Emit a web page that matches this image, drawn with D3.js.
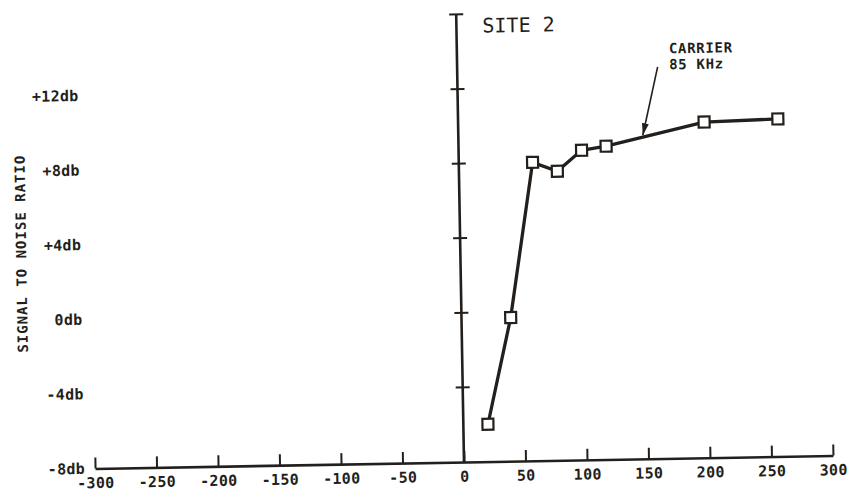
<!DOCTYPE html>
<html>
<head>
<meta charset="UTF-8">
<script src="https://d3js.org/d3.v7.min.js"></script>
<style>
  body { margin: 0; background: #fff; }
  svg text { font-family: "DejaVu Sans Mono", monospace; fill: #231f1c; }
  .axis .tick text { font-size: 15px; font-weight: bold; letter-spacing: 0.3px; }
  .axis path, .axis line { stroke: #231f1c; }
</style>
</head>
<body>
<script>
  // distance / offset readings and measured S/N (db)
  var xValues = [20, 40, 60, 80, 100, 120, 200, 260];
  var snrValues = [-6.0, -0.3, 8.0, 7.5, 8.6, 8.8, 10.0, 10.1];

  var xTickValues = [-300, -250, -200, -150, -100, -50, 0, 50, 100, 150, 200, 250, 300];
  var yTickValues = [12, 8, 4, 0, -4, -8];
  var yTickLabels = ["+12db", "+8db", "+4db", "0db", "-4db", "-8db"];

  var width = 849, height = 498;
  var ink = "#231f1c";

  var x = d3.scaleLinear().domain([-300, 300]).range([95, 833]);
  var y = d3.scaleLinear().domain([-8, 16]).range([462, 14.4]);

  var svg = d3.select("body").append("svg")
    .attr("width", width)
    .attr("height", height);

  // the scanned sheet sits a little crooked, so turn the plot about the origin
  var g = svg.append("g")
    .attr("transform", "rotate(-1," + x(0) + "," + y(-8) + ")");

  // horizontal axis, ticks pointing up
  var xAxis = g.append("g")
    .attr("class", "axis")
    .attr("transform", "translate(0," + y(-8) + ")")
    .call(d3.axisBottom(x)
      .tickValues(xTickValues)
      .tickFormat(function(d) { return String(d); })
      .tickSize(-11)
      .tickSizeOuter(0)
      .tickPadding(9));
  xAxis.select(".domain").attr("stroke-width", 2.6);
  xAxis.selectAll(".tick line").attr("stroke-width", 2);

  // vertical axis through zero with crossing ticks and a cap
  var x0 = x(0);
  g.append("line")
    .attr("x1", x0).attr("x2", x0)
    .attr("y1", y(-8)).attr("y2", y(16))
    .attr("stroke", ink).attr("stroke-width", 2.6);
  g.append("line")
    .attr("x1", x0 - 7).attr("x2", x0 + 7)
    .attr("y1", y(16)).attr("y2", y(16))
    .attr("stroke", ink).attr("stroke-width", 2);
  g.selectAll(".ytick")
    .data(yTickValues.filter(function(d) { return d > -8; }))
    .enter().append("line")
    .attr("class", "ytick")
    .attr("x1", x0 - 7).attr("x2", x0 + 7)
    .attr("y1", function(d) { return y(d); })
    .attr("y2", function(d) { return y(d); })
    .attr("stroke", ink).attr("stroke-width", 2);

  // db labels stand off at the left margin
  var yAxis = g.append("g")
    .attr("class", "axis")
    .attr("transform", "translate(85,0)")
    .call(d3.axisLeft(y)
      .tickValues(yTickValues)
      .tickFormat(function(d, i) { return yTickLabels[i]; })
      .tickSize(0)
      .tickPadding(0));
  yAxis.select(".domain").remove();

  g.append("text")
    .attr("transform", "translate(25,246) rotate(-90)")
    .attr("text-anchor", "middle")
    .attr("dy", "0.35em")
    .style("font-size", "14px")
    .style("font-weight", "bold")
    .style("letter-spacing", "1px")
    .text("SIGNAL TO NOISE RATIO");

  // curve
  var pts = xValues.map(function(d, i) { return [d, snrValues[i]]; });
  var line = d3.line()
    .x(function(d) { return x(d[0]); })
    .y(function(d) { return y(d[1]); });

  g.append("path")
    .datum(pts)
    .attr("d", line)
    .attr("fill", "none")
    .attr("stroke", ink)
    .attr("stroke-width", 3.3)
    .attr("stroke-linejoin", "round");

  g.selectAll(".pt")
    .data(pts)
    .enter().append("rect")
    .attr("class", "pt")
    .attr("x", function(d) { return x(d[0]) - 5.5; })
    .attr("y", function(d) { return y(d[1]) - 5.5; })
    .attr("width", 11)
    .attr("height", 11)
    .attr("fill", "#fff")
    .attr("stroke", ink)
    .attr("stroke-width", 2.2);

  // annotations
  g.append("text")
    .attr("x", 490).attr("y", 33)
    .style("font-size", "20px")
    .text("SITE 2");

  var note = g.append("text")
    .style("font-size", "14px")
    .style("font-weight", "bold")
    .style("letter-spacing", "0.7px");
  note.append("tspan").attr("x", 676).attr("y", 57).text("CARRIER");
  note.append("tspan").attr("x", 676).attr("y", 73).text("85 KHz");

  svg.append("defs").append("marker")
    .attr("id", "head")
    .attr("viewBox", "0 0 12 7")
    .attr("refX", 12).attr("refY", 3.5)
    .attr("markerWidth", 12).attr("markerHeight", 7)
    .attr("markerUnits", "userSpaceOnUse")
    .attr("orient", "auto")
    .append("path")
    .attr("d", "M0,0L12,3.5L0,7Z")
    .attr("fill", ink);

  g.append("line")
    .attr("x1", x(163)).attr("y1", y(13.0))
    .attr("x2", x(150)).attr("y2", y(9.35))
    .attr("stroke", ink)
    .attr("stroke-width", 1.6)
    .attr("marker-end", "url(#head)");
</script>
</body>
</html>
